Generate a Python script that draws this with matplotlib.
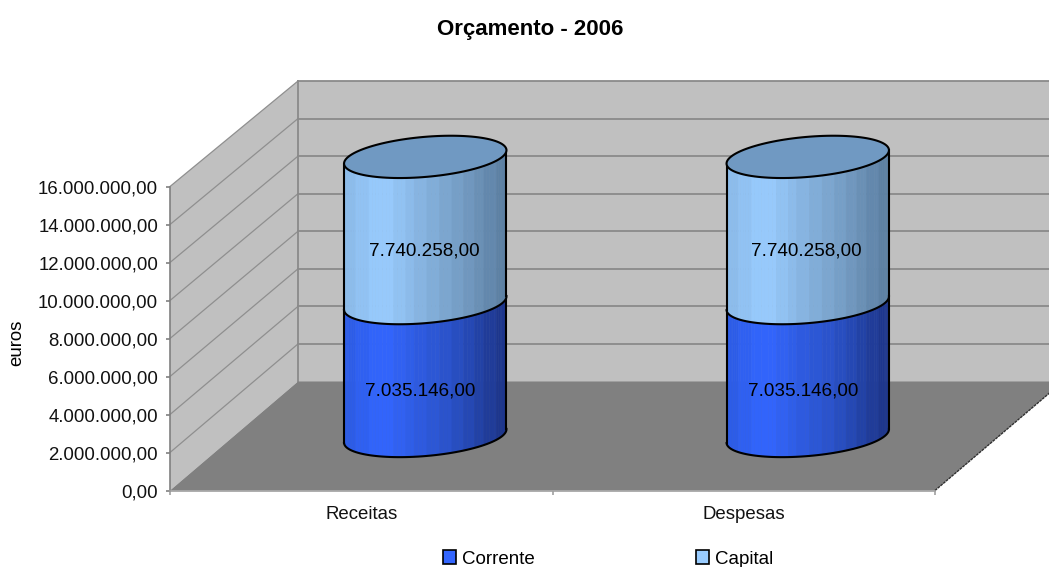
import numpy as np
import matplotlib
matplotlib.use("Agg")
import matplotlib.pyplot as plt
from matplotlib.collections import PolyCollection
from matplotlib.colors import LinearSegmentedColormap
from matplotlib.patches import Polygon, Rectangle
from matplotlib.transforms import IdentityTransform

plt.rcParams['font.family'] = ['Liberation Sans', 'DejaVu Sans']

# data
categories = ["Receitas", "Despesas"]
corrente = [7035146.0, 7035146.0]
capital = [7740258.0, 7740258.0]
y_ticks = [0, 2000000, 4000000, 6000000, 8000000, 10000000, 12000000, 14000000, 16000000]
series_names = ["Corrente", "Capital"]


def euro(v):
    return f"{v:,.2f}".replace(",", "#").replace(".", ",").replace("#", ".")


W, H = 1049, 567
fig = plt.figure(figsize=(W/100, H/100), dpi=100)


def box(x0, x1, y_bottom, y_top):
    return [x0/W, 1 - y_bottom/H, (x1-x0)/W, (y_bottom-y_top)/H]


# front plane holds the real axes, back plane only gives the depth
ax = fig.add_axes(box(170, 935, 490.5, 186.5))
ax_back = fig.add_axes(box(298, 1063, 381.5, 81))
for a in (ax, ax_back):
    a.set_xlim(0, 2)
    a.set_ylim(0, 16000000)
ax_back.set_visible(False)
ax.patch.set_visible(False)


def px(x, v, f=0.0):
    p0 = ax.transData.transform((x, v))
    p1 = ax_back.transData.transform((x, v))
    return (1-f)*p0 + f*p1


def add_poly(pts, **kw):
    p = Polygon(pts, closed=True, transform=IdentityTransform(), clip_on=False, **kw)
    ax.add_patch(p)


def add_line(pts, color="#808080", lw=1.2, **kw):
    pts = np.array(pts)
    ax.plot(pts[:, 0], pts[:, 1], color=color, lw=lw, transform=IdentityTransform(),
            clip_on=False, **kw)


wall = "#c0c0c0"
grid = "#8a8a8a"
top = y_ticks[-1]

# back wall, side wall, floor
add_poly([px(0, 0, 1), px(2, 0, 1), px(2, top, 1), px(0, top, 1)], fc=wall, ec="none", zorder=1)
add_poly([px(0, 0), px(0, 0, 1), px(0, top, 1), px(0, top)], fc=wall, ec="none", zorder=1)
add_poly([px(0, 0), px(2, 0), px(2, 0, 1), px(0, 0, 1)], fc="#808080", ec="none", zorder=2)

for v in y_ticks[1:]:
    pts = [px(0, v), px(0, v, 1), px(2, v, 1)]
    add_line(pts[:2], color="#8f8f8f", lw=0.9, zorder=1.5)
    add_line(pts[1:], color=grid, lw=1.3, zorder=1.5)
add_line([px(0, 0, 1), px(0, top, 1)], color=grid, lw=1.3, zorder=1.5)
add_line([px(2, 0), px(2, 0, 1)], color="#303030", lw=1.0, ls=(0, (2, 0.6)), zorder=2.5)

# cylinders
cyl_a = 81.5
cyl_b = 20.0
tilt = np.radians(5.0)
u = np.array([np.cos(tilt), np.sin(tilt)])
w = np.array([-np.sin(tilt), np.cos(tilt)])

cm_corrente = LinearSegmentedColormap.from_list("c1", [(0, "#2c5ce8"), (0.18, "#3366ff"),
                                                       (0.6, "#2a52c8"), (1, "#1a3080")])
cm_capital = LinearSegmentedColormap.from_list("c2", [(0, "#8cbcec"), (0.18, "#99ccff"),
                                                      (0.6, "#7aa3cc"), (1, "#577a9c")])


def ellipse(c, t):
    return c + np.outer(np.cos(t), u)*cyl_a + np.outer(np.sin(t), w)*cyl_b


def draw_segment(x, v0, v1, cmap, z):
    c0 = px(x, v0, 0.5)
    c1 = px(x, v1, 0.5)
    t = np.linspace(np.pi, 2*np.pi, 61)
    low = ellipse(c0, t)
    up = ellipse(c1, t)
    polys = [[low[i], low[i+1], up[i+1], up[i]] for i in range(60)]
    frac = (low[:-1, 0] - low[0, 0]) / (low[-1, 0] - low[0, 0])
    steps = np.floor(frac*14)/14
    cols = cmap(steps)
    pc = PolyCollection(polys, facecolors=cols, edgecolors=cols, linewidths=0.4,
                        transform=IdentityTransform(), clip_on=False, zorder=z)
    ax.add_collection(pc)
    add_line(low, color="black", lw=1.5, zorder=z+0.2)
    add_line([low[0], up[0]], color="black", lw=1.5, zorder=z+0.2)
    add_line([low[-1], up[-1]], color="black", lw=1.5, zorder=z+0.2)


for i, name in enumerate(categories):
    x = i + 0.5
    draw_segment(x, 0, corrente[i], cm_corrente, 3)
    total = corrente[i] + capital[i]
    draw_segment(x, corrente[i], total, cm_capital, 4)
    # top face
    c = px(x, total, 0.5)
    tt = np.linspace(0, 2*np.pi, 121)
    add_poly(ellipse(c, tt), fc="#7099c2", ec="black", lw=1.5, zorder=5)
    # data labels
    p = px(x, corrente[i]/2, 0.5) + np.array([-5, -21])
    ax.text(p[0], p[1], euro(corrente[i]), transform=IdentityTransform(), ha="center",
            va="center", fontsize=13.6, color="black", zorder=6)
    p = px(x, corrente[i] + capital[i]/2, 0.5) + np.array([-1, -21])
    ax.text(p[0], p[1], euro(capital[i]), transform=IdentityTransform(), ha="center",
            va="center", fontsize=13.6, color="black", zorder=6)

# axes
for s in ("top", "right"):
    ax.spines[s].set_visible(False)
ax.spines["left"].set_color("#808080")
ax.spines["bottom"].set_color("#a0a0a0")
ax.spines["left"].set_linewidth(1.2)
ax.spines["bottom"].set_linewidth(1.2)
ax.set_zorder(1)
ax.set_yticks(y_ticks)
ax.set_yticklabels([euro(v) for v in y_ticks], fontsize=13.4, color="#111111")
ax.tick_params(axis="y", length=3, width=1.2, color="#808080", pad=5.5)
ax.set_xticks([0, 1, 2])
ax.set_xticklabels([])
ax.tick_params(axis="x", which="major", length=3, width=1.2, color="#a0a0a0")
ax.set_xticks([0.5, 1.5], minor=True)
ax.set_xticklabels(categories, minor=True, fontsize=13.4, color="#111111")
ax.tick_params(axis="x", which="minor", length=0, pad=11)

fig.text(17/W, 1 - 343/H, "euros", rotation=90, ha="center", va="center", fontsize=13.4)
fig.text(530/W, 1 - 30/H, "Orçamento - 2006", ha="center", va="center",
         fontsize=16, fontweight="bold", color="black")

handles = [Rectangle((0, 0), 1, 1, fc="#3366ff", ec="black", lw=1.2),
           Rectangle((0, 0), 1, 1, fc="#99ccff", ec="black", lw=1.2)]
fig.legend(handles, series_names, ncol=2, frameon=False, loc="center left",
           bbox_to_anchor=(443/W, 1 - 559/H), fontsize=13.5, handlelength=0.7, handleheight=0.7,
           handletextpad=0.3, columnspacing=8.6, borderpad=0, borderaxespad=0)

fig.savefig("out.png", dpi=100)
